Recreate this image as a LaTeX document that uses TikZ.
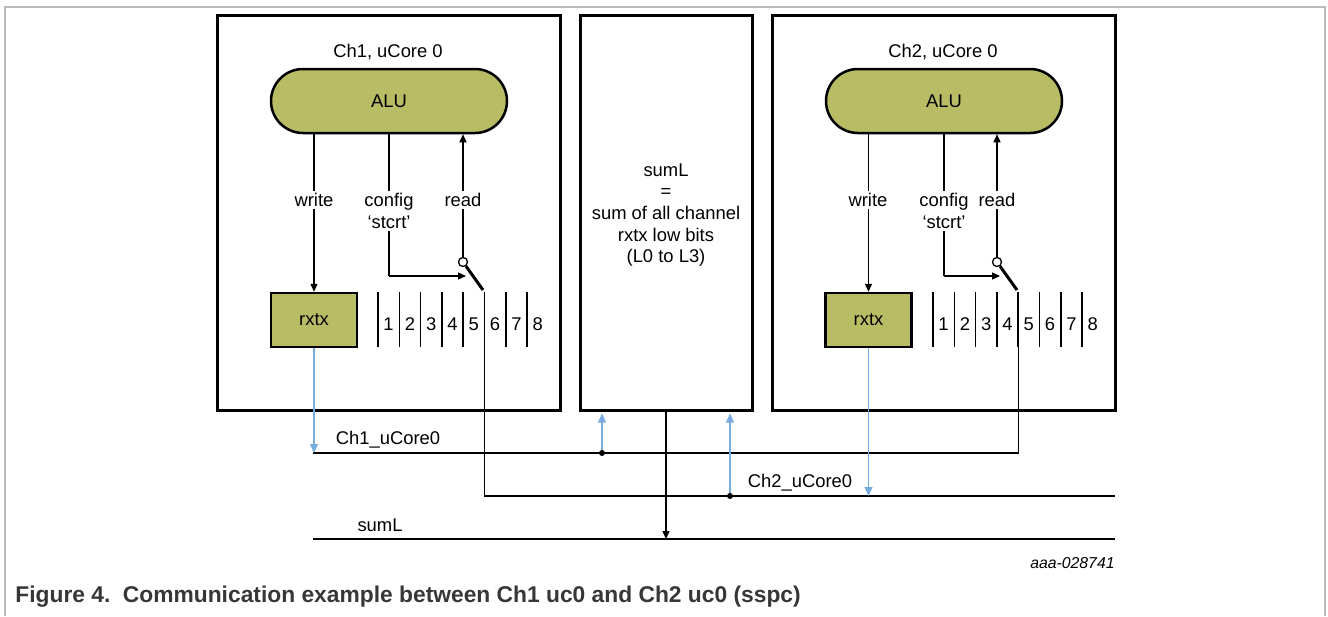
\documentclass[tikz,border=0pt]{standalone}
\usepackage{fontspec}
\setmainfont{Liberation Sans}
\usetikzlibrary{arrows.meta}
\definecolor{alufill}{RGB}{184,188,100}
\definecolor{bluewire}{RGB}{120,172,222}
\definecolor{framegray}{RGB}{185,185,185}
\definecolor{capgray}{RGB}{55,55,55}
\begin{document}
\begin{tikzpicture}[x=0.5pt,y=-0.5pt,
  txt/.style={font=\fontsize{9.2}{10.8}\selectfont},
  chbox/.style={draw,line width=1.5pt,minimum width=171.5pt,minimum height=197.5pt,inner sep=0pt},
  alubox/.style={draw,line width=1.25pt,fill=alufill,rounded corners=16pt,minimum width=118pt,minimum height=32pt,inner sep=0pt,txt},
  regbox/.style={draw,line width=1.25pt,fill=alufill,minimum width=43pt,minimum height=27pt,inner sep=0pt,txt},
  lbl/.style={fill=white,inner sep=1pt,txt,align=center},
  wire/.style={line width=0.65pt},
  bar/.style={line width=0.75pt},
  arr/.style={wire,-{Triangle[length=4pt,width=3.5pt]}},
  barr/.style={line width=0.7pt,draw=bluewire,-{Triangle[length=4.5pt,width=4pt,fill=bluewire]}},
  blade/.style={line width=1.5pt},
  knob/.style={circle,draw,fill=white,inner sep=0pt,minimum size=4.5pt,line width=0.65pt},
  dotnode/.style={circle,fill=black,inner sep=0pt,minimum size=3pt}]
\useasboundingbox (0,0) rectangle (1328,616);
% outer frame
\draw[framegray,line width=0.75pt] (5,616) -- (5,7) -- (1325,7) -- (1325,616);

% boxes
\node[chbox] (ch1) at (388.5,212.5) {};
\node[chbox,minimum width=86pt] (mid) at (666,212.5) {};
\node[chbox] (ch2) at (943.5,212.5) {};

\node[txt] (t1) at (388,52) {Ch1, uCore 0};
\node[txt] (t2) at (943,52) {Ch2, uCore 0};

\node[txt,align=center] (midtxt) at (666,215) {sumL\\=\\sum of all channel\\rxtx low bits\\(L0 to L3)};

\node[alubox] (alu1) at (389,101) {ALU};
\node[alubox] (alu2) at (944,101) {ALU};
\node[regbox] (rx1) at (314,320) {rxtx};
\node[regbox] (rx2) at (868.5,320) {rxtx};

% registers
\foreach \i in {1,...,8} {
  \draw[bar] ({378+21.3*(\i-1)},292) coordinate (a1-\i) -- ({378+21.3*(\i-1)},347) coordinate (b1-\i);
  \node[txt] (n1-\i) at ({388.6+21.3*(\i-1)},324) {\i};
  \draw[bar] ({933+21.3*(\i-1)},292) coordinate (a2-\i) -- ({933+21.3*(\i-1)},347) coordinate (b2-\i);
  \node[txt] (n2-\i) at ({943.6+21.3*(\i-1)},324) {\i};
}

% switches
\node[knob] (sw1) at (463,262) {};
\coordinate (se1) at (483,290);
\draw[blade] (sw1) -- (se1);
\node[knob] (sw2) at (997,262) {};
\coordinate (se2) at (1017,290);
\draw[blade] (sw2) -- (se2);

% write
\draw[arr] (rx1.north |- alu1.south) -- (rx1.north);
\draw[arr] (rx2.north |- alu2.south) -- (rx2.north);
% read
\draw[arr] (sw1.north) -- (sw1.north |- alu1.south);
\draw[arr] (sw2.north) -- (sw2.north |- alu2.south);
% config
\coordinate (cf1) at (389,276);
\coordinate (ct1) at (466,276);
\draw[wire] (alu1.south) -- (cf1);
\draw[arr] (cf1) -- (ct1);
\coordinate (cf2) at (944,276);
\coordinate (ct2) at (1000,276);
\draw[wire] (alu2.south) -- (cf2);
\draw[arr] (cf2) -- (ct2);

\node[lbl] (wl1) at (314,200) {write};
\node[lbl] (rl1) at (463,200) {read};
\node[lbl] (cl1) at (389,211) {config\\‘stcrt’};
\node[lbl] (wl2) at (868,200) {write};
\node[lbl] (rl2) at (997,200) {read};
\node[lbl] (cl2) at (944,211) {config\\‘stcrt’};

% buses
\coordinate (bus1L) at (313,453);
\coordinate (bus1R) at (b2-5 |- bus1L);
\draw[wire] (b2-5) -- (bus1R) -- (bus1L);
\coordinate (bus2R) at (1115,496);
\coordinate (bus2L) at (b1-6 |- bus2R);
\draw[wire] (b1-6) -- (bus2L) -- (bus2R);
\coordinate (s1) at (313,539);
\coordinate (s2) at (1115,539);
\draw[wire] (s1) -- (s2);

\node[txt] (bl1) at (388,440) {Ch1\_uCore0};
\node[txt] (bl2) at (800,483) {Ch2\_uCore0};
\node[txt] (bl3) at (380,525) {sumL};

% sum arrow
\draw[arr] (mid.south) -- (mid.south |- s1);

% blue arrows
\draw[barr] (rx1.south) -- (rx1.south |- bus1L);
\draw[barr] (rx2.south) -- (rx2.south |- bus2R);
\node[dotnode] (d1) at (602,453) {};
\node[dotnode] (d2) at (730,496) {};
\draw[barr,shorten >=1pt] (d1) -- (d1 |- mid.south);
\draw[barr,shorten >=1pt] (d2) -- (d2 |- mid.south);

\node[font=\fontsize{7.9}{9}\selectfont\itshape,anchor=east,inner sep=0pt] (code) at (1115,563) {aaa-028741};
\node[font=\fontsize{11.4}{13}\selectfont\bfseries,text=capgray,anchor=west,inner sep=0pt] (cap) at (15,597) {Figure 4.\hspace{0.55em}Communication example between Ch1 uc0 and Ch2 uc0 (sspc)};
\end{tikzpicture}
\end{document}
